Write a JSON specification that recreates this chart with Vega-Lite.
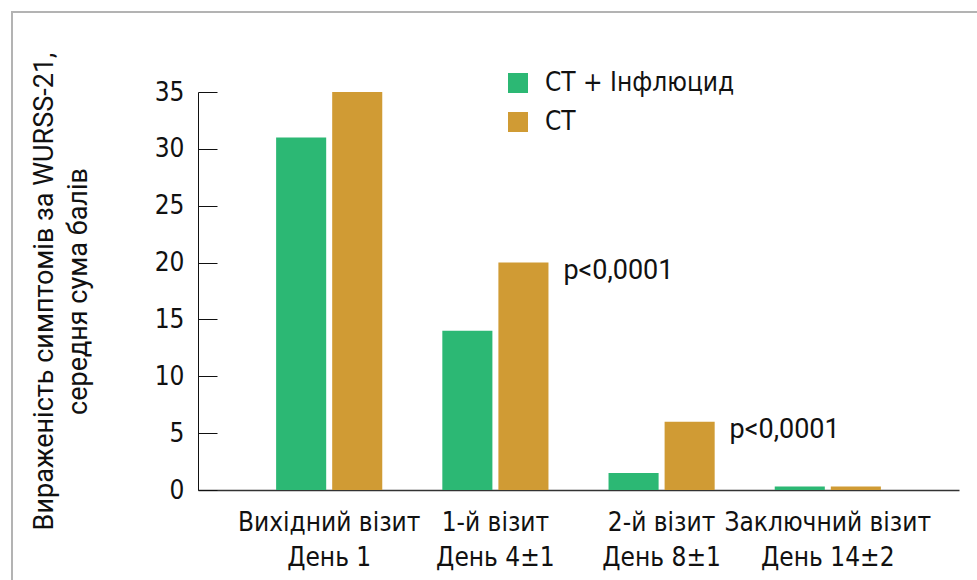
{
  "$schema": "https://vega.github.io/schema/vega-lite/v6.json",
  "width": 975,
  "height": 580,
  "autosize": {"type": "none"},
  "padding": {"left": 12, "top": 12, "right": 0, "bottom": 0},
  "background": "white",
  "config": {
    "view": {"stroke": "#b3b3b3", "strokeWidth": 2},
    "axis": {"grid": false}
  },
  "datasets": {
    "bars": [
      {"visit": "Вихідний візит|День 1", "group": "СТ + Інфлюцид", "value": 31},
      {"visit": "Вихідний візит|День 1", "group": "СТ", "value": 35},
      {"visit": "1-й візит|День 4±1", "group": "СТ + Інфлюцид", "value": 14},
      {"visit": "1-й візит|День 4±1", "group": "СТ", "value": 20},
      {"visit": "2-й візит|День 8±1", "group": "СТ + Інфлюцид", "value": 1.5},
      {"visit": "2-й візит|День 8±1", "group": "СТ", "value": 6},
      {"visit": "Заключний візит|День 14±2", "group": "СТ + Інфлюцид", "value": 0.3},
      {"visit": "Заключний візит|День 14±2", "group": "СТ", "value": 0.3}
    ],
    "notes": [
      {"visit": "1-й візит|День 4±1", "value": 20, "label": "p<0,0001"},
      {"visit": "2-й візит|День 8±1", "value": 6, "label": "p<0,0001"}
    ]
  },
  "layer": [
    {
      "data": {"name": "bars"},
      "mark": {"type": "bar"},
      "encoding": {
        "x": {
          "field": "visit",
          "type": "nominal",
          "sort": null,
          "scale": {"range": [186, 947], "paddingInner": 0.3614, "paddingOuter": 0.47},
          "axis": {
            "title": null,
            "orient": "bottom",
            "offset": -102,
            "ticks": false,
            "domainColor": "#333333",
            "domainWidth": 1.5,
            "labelExpr": "split(datum.label, '|')",
            "labelAngle": 0,
            "labelLimit": 0,
            "labelFont": "DejaVu Sans Condensed, sans-serif",
            "labelFontSize": 26,
            "labelColor": "#111111",
            "labelLineHeight": 35,
            "labelBaseline": "top",
            "labelPadding": 19
          }
        },
        "xOffset": {
          "field": "group",
          "type": "nominal",
          "sort": ["СТ + Інфлюцид", "СТ"],
          "scale": {"paddingInner": 0.107}
        },
        "y": {
          "field": "value",
          "type": "quantitative",
          "scale": {"domain": [0, 35], "range": [478, 80], "nice": false},
          "axis": {
            "values": [0, 5, 10, 15, 20, 25, 30, 35],
            "offset": -186,
            "tickSize": -19,
            "tickColor": "#111111",
            "domainColor": "#111111",
            "labelFont": "DejaVu Sans Condensed, sans-serif",
            "labelFontSize": 26,
            "labelColor": "#111111",
            "labelPadding": 33,
            "title": ["Вираженість симптомів за WURSS-21,", "середня сума балів"],
            "titleFont": "Roboto",
            "titleFontSize": 27,
            "titleFontWeight": "normal",
            "titleColor": "#111111",
            "titleLineHeight": 34,
            "titlePadding": 62
          }
        },
        "color": {
          "field": "group",
          "type": "nominal",
          "scale": {"domain": ["СТ + Інфлюцид", "СТ"], "range": ["#2cb874", "#d09b34"]},
          "legend": {
            "title": null,
            "orient": "none",
            "legendX": 493,
            "legendY": 58,
            "symbolType": "square",
            "symbolSize": 400,
            "symbolStrokeWidth": 0,
            "labelLimit": 0,
            "labelFont": "DejaVu Sans Condensed, sans-serif",
            "labelFontSize": 26,
            "labelColor": "#111111",
            "labelOffset": 14,
            "rowPadding": 13
          }
        }
      }
    },
    {
      "data": {"name": "notes"},
      "mark": {"type": "text", "align": "left", "baseline": "middle", "dx": 68, "dy": 8, "font": "Roboto", "fontSize": 27, "color": "#111111"},
      "encoding": {
        "x": {"field": "visit", "type": "nominal", "sort": null},
        "y": {"field": "value", "type": "quantitative"},
        "text": {"field": "label"}
      }
    }
  ]
}
